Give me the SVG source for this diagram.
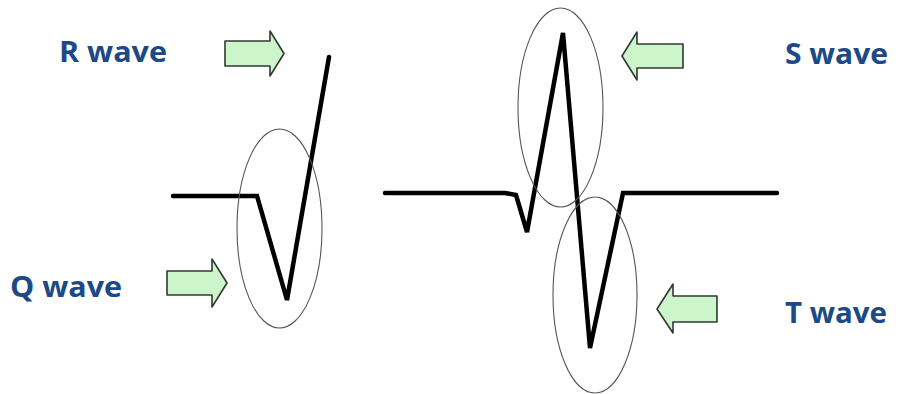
<svg xmlns="http://www.w3.org/2000/svg" width="899" height="394" viewBox="0 0 899 394">
  <style>
    .lbl { font-family: "Open Sans", "Liberation Sans", sans-serif; font-weight: bold; font-size: 29px; fill: #1b4a86; }
    .arrow { fill: #cdf5cc; stroke: #2f3a2f; stroke-width: 1.6; stroke-linejoin: round; }
    .ring { fill: none; stroke: #555555; stroke-width: 1.1; }
    .wave { fill: none; stroke: #000; stroke-width: 4.5; stroke-linejoin: miter; stroke-linecap: round; }
  </style>
  <rect width="899" height="394" fill="#ffffff"/>

  <g id="waveforms">
    <polyline class="wave" points="173,196 257,196 287,300 329,57"/>
    <polyline class="wave" points="385,193 505,193 516,195 527,232 563,33 590,348 623,193 777,193"/>
  </g>

  <g id="rings">
    <ellipse id="ring-q" class="ring" cx="279.5" cy="228.5" rx="42.5" ry="99.5"/>
    <ellipse id="ring-s" class="ring" cx="560.5" cy="107.5" rx="42.5" ry="99.5"/>
    <ellipse id="ring-t" class="ring" cx="595" cy="295" rx="42" ry="98"/>
  </g>

  <g id="node-r">
    <text class="lbl" x="59" y="62" textLength="108" lengthAdjust="spacingAndGlyphs">R wave</text>
  </g>
  <g id="node-q">
    <text class="lbl" x="10" y="297" textLength="112" lengthAdjust="spacingAndGlyphs">Q wave</text>
  </g>
  <g id="node-s">
    <text class="lbl" x="785" y="64" textLength="103" lengthAdjust="spacingAndGlyphs">S wave</text>
  </g>
  <g id="node-t">
    <text class="lbl" x="785" y="323" textLength="102" lengthAdjust="spacingAndGlyphs">T wave</text>
  </g>

  <g id="connectors">
    <path class="arrow" d="M225,41 H270 V31 L284,53.5 L270,76 V66 H225 Z"/>
    <path class="arrow" d="M167,271 H212 V259 L227,283 L212,307 V295 H167 Z"/>
    <path class="arrow" d="M683,44 H637 V32 L622,56 L637,80 V68 H683 Z"/>
    <path class="arrow" d="M717,296 H673 V284 L657,309 L673,333 V322 H717 Z"/>
  </g>
</svg>
